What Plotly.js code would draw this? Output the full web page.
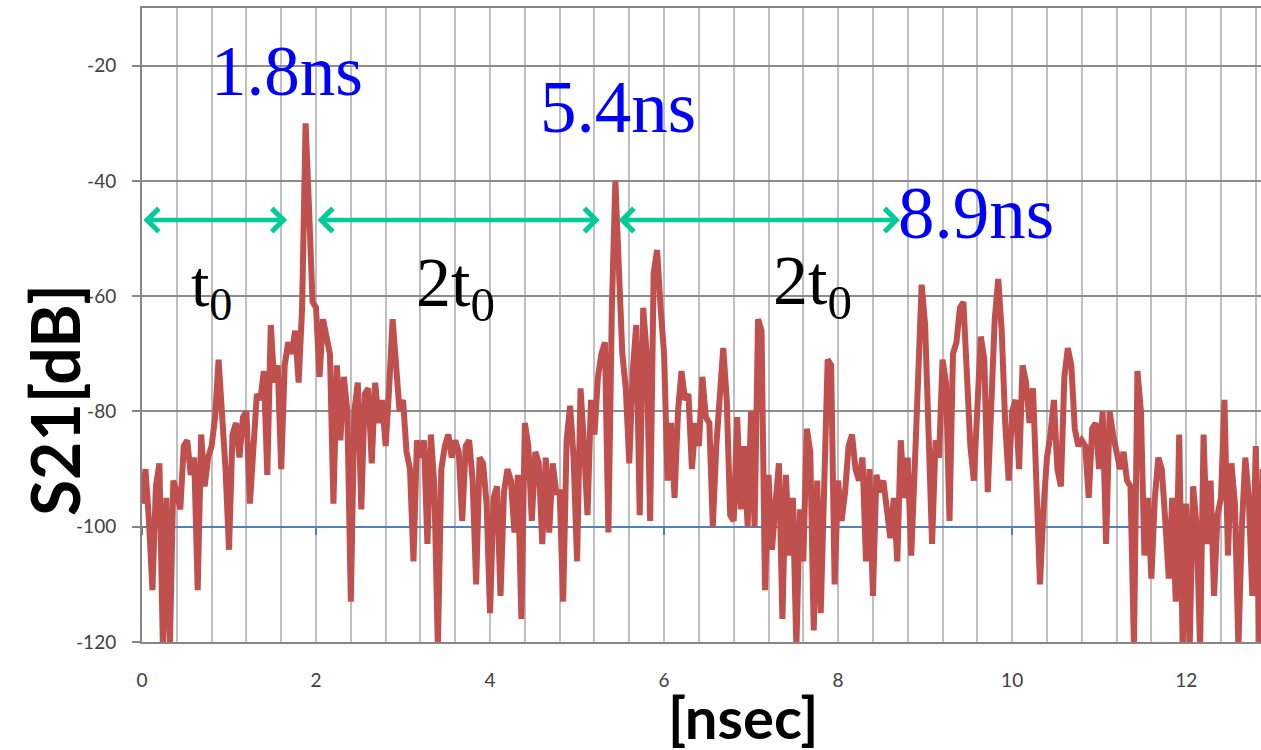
<!DOCTYPE html>
<html>
<head>
<meta charset="utf-8">
<script src="https://cdn.plot.ly/plotly-3.0.1.min.js"></script>
<style>
  html, body { margin: 0; padding: 0; background: #ffffff; }
  #chart { width: 1261px; height: 750px; }
</style>
</head>
<body>
<div id="chart"></div>
<script>
// Sampling step of the trace (ns)
const timeStep = 0.04;

// S21 magnitude (dB), one value every 0.04 ns starting at 0 ns
const s21dB = [
  -96, -90, -99, -111, -93, -89, -121, -95, -121, -92,
  -94, -97, -86, -85, -91, -88, -111, -84, -93, -88,
  -86, -81, -71, -79, -90, -104, -84, -82, -88, -81,
  -80, -96, -84, -77, -78, -73, -91, -65, -75, -72,
  -90, -72, -68, -70, -66, -75, -62, -30, -45, -61,
  -62, -74, -64, -67, -70, -96, -72, -85, -74, -80,
  -113, -80, -75, -97, -77, -76, -89, -75, -82, -78,
  -86, -76, -64, -72, -80, -78, -87, -90, -106, -85,
  -88, -85, -103, -84, -93, -121, -90, -86, -84, -88,
  -85, -87, -99, -86, -85, -92, -110, -88, -89, -96,
  -115, -95, -93, -112, -94, -90, -92, -101, -91, -116,
  -82, -86, -99, -87, -89, -103, -88, -101, -89, -94,
  -94, -113, -85, -79, -88, -106, -76, -86, -98, -78,
  -84, -74, -70, -68, -101, -62, -40, -55, -70, -76,
  -89, -73, -65, -98, -62, -70, -99, -56, -52, -62,
  -70, -92, -82, -95, -80, -73, -78, -77, -90, -82,
  -86, -74, -81, -82, -100, -86, -76, -69, -78, -98,
  -99, -81, -97, -86, -100, -80, -100, -64, -66, -111,
  -91, -104, -96, -89, -116, -91, -105, -95, -121, -97,
  -106, -83, -87, -118, -92, -115, -93, -71, -72, -110,
  -92, -99, -94, -86, -84, -90, -92, -88, -106, -90,
  -112, -91, -94, -92, -97, -102, -95, -106, -85, -95,
  -88, -105, -90, -72, -58, -65, -88, -103, -85, -88,
  -71, -75, -99, -70, -68, -62, -61, -76, -86, -92,
  -80, -67, -71, -94, -79, -64, -57, -66, -82, -92,
  -80, -78, -90, -72, -75, -82, -76, -90, -110, -97,
  -88, -84, -78, -90, -93, -74, -69, -72, -83, -86,
  -85, -86, -95, -83, -82, -90, -80, -103, -80, -84,
  -87, -90, -87, -92, -93, -121, -73, -80, -105, -95,
  -109, -95, -88, -90, -99, -109, -95, -113, -84, -121,
  -96, -121, -93, -100, -121, -84, -103, -92, -112, -98,
  -95, -78, -105, -89, -96, -121, -100, -88, -95, -112,
  -86, -121, -90
];

// Time axis (ns) for each sample
const timeNs = s21dB.map((_, i) => Math.round(i * timeStep * 100) / 100);

// Axis settings
const xRange = [0, 12.86];
const yRange = [-120, -10];
const xTickValues = [0, 2, 4, 6, 8, 10, 12];
const yTickValues = [-120, -100, -80, -60, -40, -20];
const axisCrossDB = -100;   // the horizontal axis crosses the value axis at -100 dB

// Texts
const xTitle = '[nsec]';
const yTitle = 'S21[dB]';
const peakLabels = ['1.8ns', '5.4ns', '8.9ns'];
const intervalLabels = ['t<sub>0</sub>', '2t<sub>0</sub>', '2t<sub>0</sub>'];

const red = '#C0504D';
const green = '#00CC99';
const blue = '#0000FF';
const serif = 'Liberation Serif, Times New Roman, serif';
const sans = 'Lato, Open Sans, sans-serif';

const traces = [
  {
    x: timeNs,
    y: s21dB,
    type: 'scatter',
    mode: 'lines',
    line: { color: red, width: 6 },
    xaxis: 'x',
    yaxis: 'y',
    showlegend: false,
    hoverinfo: 'x+y'
  },
  {
    // anchors the crossing axis (drawn at -100 dB)
    x: [xRange[0]],
    y: [null],
    type: 'scatter',
    mode: 'lines',
    xaxis: 'x2',
    yaxis: 'y',
    showlegend: false,
    hoverinfo: 'skip'
  }
];

const crossPos = (axisCrossDB - yRange[0]) / (yRange[1] - yRange[0]);

const arrowCommon = {
  xref: 'x', yref: 'y', axref: 'x', ayref: 'y',
  text: '', showarrow: true,
  arrowhead: 4, startarrowhead: 4, arrowside: 'end+start',
  arrowsize: 1, startarrowsize: 1, arrowwidth: 4.5,
  arrowcolor: green, standoff: 0, startstandoff: 0
};

const arrowY = -46.8;

const layout = {
  width: 1261,
  height: 750,
  margin: { l: 142, r: 0, t: 8, b: 108, pad: 0 },
  paper_bgcolor: '#ffffff',
  plot_bgcolor: '#ffffff',
  showlegend: false,
  xaxis: {
    range: xRange,
    tickvals: xTickValues,
    ticktext: xTickValues.map(String),
    ticks: '',
    showline: true,
    linecolor: '#868686',
    linewidth: 2,
    mirror: true,
    showgrid: true,
    gridcolor: '#BFBFBF',
    gridwidth: 2,
    minor: { dtick: 0.4, tick0: 0, showgrid: true, gridcolor: '#BFBFBF', gridwidth: 2, ticks: '' },
    zeroline: false,
    tickfont: { family: sans, size: 19, color: '#404040' },
    ticklabelstandoff: 20
  },
  xaxis2: {
    overlaying: 'x',
    anchor: 'free',
    position: crossPos,
    range: xRange,
    tickvals: xTickValues,
    showticklabels: false,
    ticks: 'outside',
    ticklen: 7,
    tickwidth: 1.5,
    tickcolor: '#4F81BD',
    showline: true,
    linecolor: '#4F81BD',
    linewidth: 2,
    showgrid: false,
    zeroline: false,
    layer: 'below traces'
  },
  yaxis: {
    range: yRange,
    tickvals: yTickValues,
    ticktext: yTickValues.map(String),
    ticks: 'outside',
    ticklen: 8,
    tickwidth: 2,
    tickcolor: '#868686',
    showline: true,
    linecolor: '#868686',
    linewidth: 2,
    showgrid: true,
    gridcolor: '#8C8C8C',
    gridwidth: 2,
    zeroline: false,
    tickfont: { family: sans, size: 19, color: '#404040' },
    ticklabelstandoff: 12
  },
  annotations: [
    // axis titles
    { xref: 'paper', yref: 'paper', x: 0.537, y: -0.118, text: xTitle, showarrow: false,
      xanchor: 'center', yanchor: 'middle',
      font: { family: sans, size: 58, color: '#000000', weight: 'bold' } },
    { xref: 'paper', yref: 'paper', x: -0.0775, y: 0.382, text: yTitle, showarrow: false,
      textangle: -90, xanchor: 'center', yanchor: 'middle',
      font: { family: sans, size: 66, color: '#000000', weight: 'bold' } },
    // peak labels
    { xref: 'x', yref: 'y', x: 1.667, y: -21.0, text: peakLabels[0], showarrow: false,
      font: { family: serif, size: 71, color: blue } },
    { xref: 'x', yref: 'y', x: 5.47, y: -27.2, text: peakLabels[1], showarrow: false,
      font: { family: serif, size: 73, color: blue } },
    { xref: 'x', yref: 'y', x: 9.58, y: -45.6, text: peakLabels[2], showarrow: false,
      font: { family: serif, size: 73, color: blue } },
    // interval labels
    { xref: 'x', yref: 'y', x: 0.80, y: -58.6, text: intervalLabels[0], showarrow: false,
      font: { family: serif, size: 66, color: '#000000' } },
    { xref: 'x', yref: 'y', x: 3.60, y: -58.6, text: intervalLabels[1], showarrow: false,
      font: { family: serif, size: 70, color: '#000000' } },
    { xref: 'x', yref: 'y', x: 7.70, y: -58.2, text: intervalLabels[2], showarrow: false,
      font: { family: serif, size: 70, color: '#000000' } },
    // double arrows
    Object.assign({}, arrowCommon, { x: 1.667, y: arrowY, ax: 0.0, ay: arrowY }),
    Object.assign({}, arrowCommon, { x: 5.26, y: arrowY, ax: 2.0, ay: arrowY }),
    Object.assign({}, arrowCommon, { x: 8.71, y: arrowY, ax: 5.46, ay: arrowY })
  ]
};

Plotly.newPlot('chart', traces, layout, { displayModeBar: false, staticPlot: true });
</script>
</body>
</html>
